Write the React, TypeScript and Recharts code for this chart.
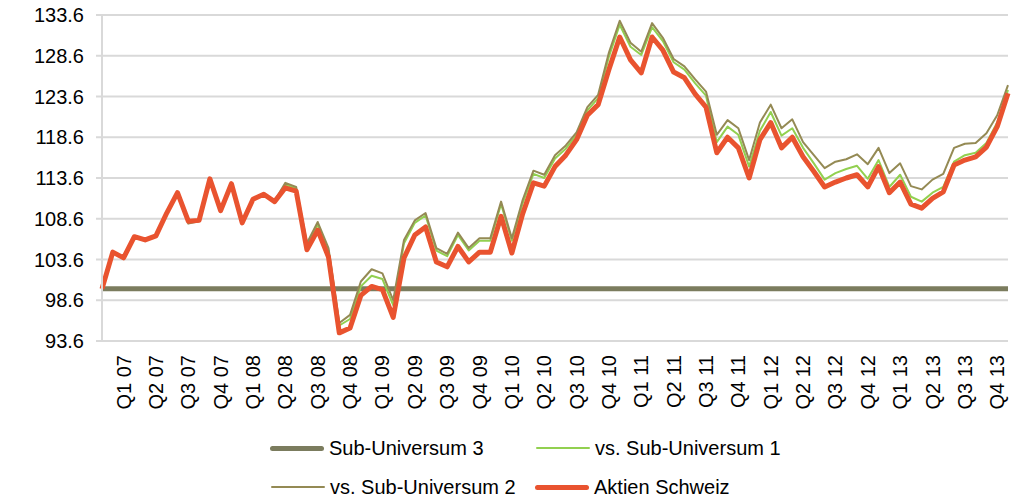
import React from 'react';
import { LineChart, Line, XAxis, YAxis, CartesianGrid } from 'recharts';

// quarter labels shown on the x axis (one per quarter-end month)
const QUARTERS = [
  'Q1 07', 'Q2 07', 'Q3 07', 'Q4 07', 'Q1 08', 'Q2 08', 'Q3 08', 'Q4 08',
  'Q1 09', 'Q2 09', 'Q3 09', 'Q4 09', 'Q1 10', 'Q2 10', 'Q3 10', 'Q4 10',
  'Q1 11', 'Q2 11', 'Q3 11', 'Q4 11', 'Q1 12', 'Q2 12', 'Q3 12', 'Q4 12',
  'Q1 13', 'Q2 13', 'Q3 13', 'Q4 13',
];

const Y_TICKS = [93.6, 98.6, 103.6, 108.6, 113.6, 118.6, 123.6, 128.6, 133.6];

// monthly values, Dec 06 = 100 ... Dec 13
const SUB_UNIVERSUM_3 = [
  100, 100, 100, 100, 100, 100, 100, 100, 100, 100, 100, 100, 100, 100, 100, 100, 100,
  100, 100, 100, 100, 100, 100, 100, 100, 100, 100, 100, 100, 100, 100, 100, 100, 100,
  100, 100, 100, 100, 100, 100, 100, 100, 100, 100, 100, 100, 100, 100, 100, 100, 100,
  100, 100, 100, 100, 100, 100, 100, 100, 100, 100, 100, 100, 100, 100, 100, 100, 100,
  100, 100, 100, 100, 100, 100, 100, 100, 100, 100, 100, 100, 100, 100, 100, 100, 100,
];

const VS_SUB_1 = [
  100, 104.5, 103.8, 106.4, 106.0, 106.5, 109.3, 111.8, 108.2, 108.4,
  113.5, 109.6, 112.9, 108.1, 111.0, 111.6, 110.7, 112.8, 112.3, 105.3,
  107.9, 104.7, 95.5, 96.3, 100.3, 101.6, 101.2, 98.0, 105.6, 108.1,
  109.0, 104.7, 104.0, 106.6, 104.7, 105.9, 105.9, 110.4, 105.9, 110.5,
  114.1, 113.6, 116.0, 117.2, 118.9, 121.9, 123.4, 128.5, 132.4, 129.7,
  128.7, 132.1, 130.4, 127.8, 126.9, 125.2, 123.7, 118.0, 119.9, 118.9,
  115.0, 119.4, 121.7, 118.8, 119.7, 117.3, 115.4, 113.4, 114.2, 114.7,
  115.1, 113.5, 115.8, 112.5, 114.0, 111.3, 110.7, 111.8, 112.5, 115.6,
  116.4, 116.7, 117.9, 120.4, 124.4,
];

const VS_SUB_2 = [
  100, 104.5, 103.8, 106.4, 106.0, 106.5, 109.4, 111.9, 108.0, 108.3,
  113.5, 109.6, 112.9, 108.1, 111.1, 111.7, 110.8, 113.0, 112.5, 105.6,
  108.2, 105.0, 95.8, 96.8, 100.9, 102.4, 101.9, 98.6, 106.0, 108.4,
  109.3, 105.0, 104.3, 106.9, 105.0, 106.2, 106.2, 110.7, 106.2, 110.9,
  114.5, 114.0, 116.4, 117.6, 119.2, 122.3, 123.8, 129.0, 132.9, 130.2,
  129.1, 132.6, 130.8, 128.2, 127.3, 125.7, 124.2, 118.9, 120.7, 119.7,
  115.8, 120.4, 122.6, 119.7, 120.8, 118.0, 116.4, 114.8, 115.6, 115.9,
  116.5, 115.3, 117.3, 114.2, 115.4, 112.6, 112.2, 113.4, 114.1, 117.3,
  117.8, 117.9, 119.1, 121.3, 125.0,
];

const AKTIEN_SCHWEIZ = [
  100, 104.5, 103.8, 106.4, 106.0, 106.5, 109.3, 111.8, 108.3, 108.4,
  113.5, 109.6, 112.9, 108.1, 111.0, 111.6, 110.7, 112.4, 112.0, 104.8,
  107.2, 103.9, 94.6, 95.2, 99.2, 100.3, 99.9, 96.5, 103.8, 106.6,
  107.6, 103.3, 102.7, 105.2, 103.3, 104.5, 104.5, 108.9, 104.4, 109.2,
  113.0, 112.6, 115.0, 116.4, 118.3, 121.3, 122.6, 126.9, 130.9, 128.1,
  126.5, 130.9, 129.3, 126.6, 125.9, 123.9, 122.3, 116.7, 118.6, 117.3,
  113.6, 118.3, 120.4, 117.3, 118.6, 116.2, 114.4, 112.5, 113.1, 113.6,
  114.0, 112.5, 115.0, 111.8, 113.1, 110.4, 109.9, 111.1, 111.9, 115.2,
  115.8, 116.2, 117.4, 119.9, 124.0,
];

const SERIES = [
  { key: 'su3', name: 'Sub-Universum 3', color: '#7b7c5e', width: 5 },
  { key: 'vs1', name: 'vs. Sub-Universum 1', color: '#92d050', width: 2 },
  { key: 'vs2', name: 'vs. Sub-Universum 2', color: '#948a54', width: 2 },
  { key: 'ch', name: 'Aktien Schweiz', color: '#e9532f', width: 5 },
];

const data = AKTIEN_SCHWEIZ.map((v, i) => ({
  i,
  su3: SUB_UNIVERSUM_3[i],
  vs1: VS_SUB_1[i],
  vs2: VS_SUB_2[i],
  ch: v,
}));

// label sits on the quarter-end month: Mar 07 is index 3 after Dec 06
const xTicks = QUARTERS.map((_, q) => 2 + q * 3);

const FONT = '"Liberation Sans", Arial, sans-serif';

const QuarterTick = ({ x, y, payload }: any) => {
  const q = (payload.value - 2) / 3;
  return (
    <text
      x={x}
      y={y}
      transform={`rotate(-90, ${x}, ${y})`}
      textAnchor="end"
      dy="0.35em"
      fontSize={20}
      fontFamily={FONT}
      fill="#000"
    >
      {QUARTERS[q]}
    </text>
  );
};

const legendPos = [
  { left: 270, top: 448 },
  { left: 536, top: 448 },
  { left: 271, top: 487 },
  { left: 535, top: 487 },
];

export default function App() {
  return (
    <div style={{ position: 'absolute', left: 0, top: 0, width: 1029, height: 498, background: '#fff', overflow: 'hidden' }}>
      <LineChart width={1029} height={498} data={data} margin={{ top: 15, right: 21, left: 0, bottom: 0 }}>
        <CartesianGrid vertical={false} stroke="#d9d9d9" strokeWidth={2} />
        <XAxis
          dataKey="i"
          type="number"
          domain={[0, 84]}
          ticks={xTicks}
          interval={0}
          tick={<QuarterTick />}
          tickLine={false}
          tickMargin={8}
          height={157}
          axisLine={{ stroke: '#d9d9d9', strokeWidth: 2 }}
        />
        <YAxis
          domain={[93.6, 133.6]}
          ticks={Y_TICKS}
          interval={0}
          width={102}
          tickSize={6}
          tickMargin={12}
          tickFormatter={(v: number) => v.toFixed(1)}
          tick={{ fontSize: 20, fontFamily: FONT, fill: '#000' }}
          tickLine={{ stroke: '#d9d9d9', strokeWidth: 2 }}
          axisLine={{ stroke: '#d9d9d9', strokeWidth: 2 }}
        />
        {SERIES.map((s) => (
          <Line
            key={s.key}
            dataKey={s.key}
            name={s.name}
            stroke={s.color}
            strokeWidth={s.width}
            dot={false}
            strokeLinejoin="round"
            isAnimationActive={false}
          />
        ))}
      </LineChart>
      {SERIES.map((s, idx) => (
        <div
          key={s.key}
          style={{
            position: 'absolute',
            left: legendPos[idx].left,
            top: legendPos[idx].top - 10,
            height: 20,
            lineHeight: '20px',
            display: 'flex',
            alignItems: 'center',
            fontFamily: FONT,
            fontSize: 20,
            color: '#000',
            whiteSpace: 'nowrap',
          }}
        >
          <span
            style={{
              display: 'inline-block',
              width: 54,
              height: s.width,
              background: s.color,
              borderRadius: s.width,
              marginRight: 5,
            }}
          />
          {s.name}
        </div>
      ))}
    </div>
  );
}
